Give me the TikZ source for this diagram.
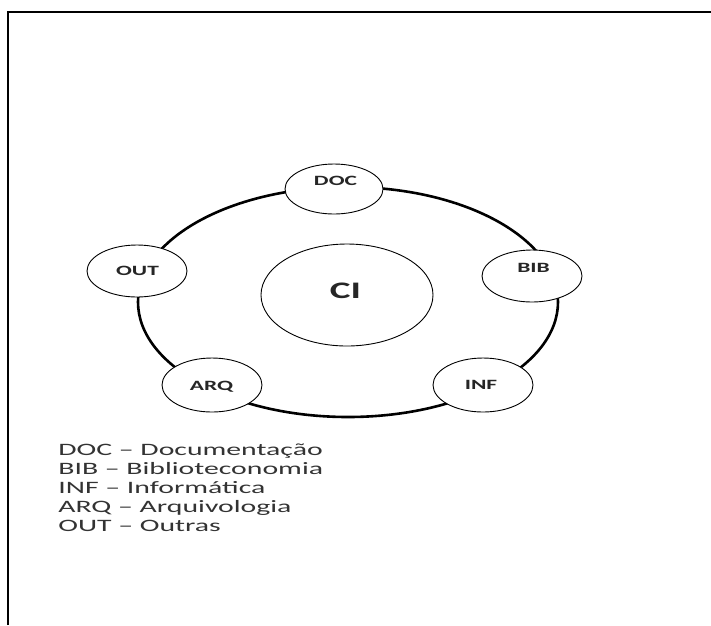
\documentclass[tikz,border=0pt]{standalone}
\usepackage{fontspec}
\setmainfont{Carlito}
\usetikzlibrary{shapes.geometric}
\begin{document}
\begin{tikzpicture}[x=1pt,y=-1pt,
  sat/.style={ellipse, draw, line width=0.9pt, fill=white, inner sep=0pt},
  lbl/.style={font=\bfseries\fontsize{14.2}{16}\selectfont, xscale=1.65, inner sep=0pt, text=black!85},
  leg/.style={font=\fontsize{17.4}{19}\selectfont, xscale=1.71, anchor=base west, inner sep=0pt, text=black!80}]
\useasboundingbox (0,0) rectangle (711,625);
\draw[line width=1.5pt] (8,625) -- (8,12) -- (711,12);
\node[ellipse, draw, line width=2.6pt, minimum width=420pt, minimum height=230pt, inner sep=0pt] (ring) at (348,302) {};
\node[sat, minimum width=98pt, minimum height=50pt] (doc) at (334,189) {};
\node[sat, minimum width=100pt, minimum height=52pt] (out) at (137,271) {};
\node[sat, minimum width=100pt, minimum height=52pt] (bib) at (532,276) {};
\node[sat, minimum width=100pt, minimum height=54pt] (arq) at (212,385) {};
\node[sat, minimum width=100pt, minimum height=54pt] (inf) at (483,385) {};
\node[sat, minimum width=172pt, minimum height=102pt] (ci) at (347,295) {};
\node[lbl] (doct) at (335.5,180.5) {DOC};
\node[lbl] (outt) at (137.5,271) {OUT};
\node[lbl] (bibt) at (533.5,268) {BIB};
\node[lbl] (arqt) at (211.5,387) {ARQ};
\node[lbl] (inft) at (481,384.5) {INF};
\node[lbl, font=\bfseries\fontsize{23.7}{26}\selectfont] (cit) at (345.5,290.5) {CI};
\node[leg] (l1) at (58,455) {DOC – Documentação};
\node[leg] (l2) at (58,474) {BIB – Biblioteconomia};
\node[leg] (l3) at (58,493) {INF – Informática};
\node[leg] (l4) at (58,512) {ARQ – Arquivologia};
\node[leg] (l5) at (58,531) {OUT – Outras};
\end{tikzpicture}
\end{document}
